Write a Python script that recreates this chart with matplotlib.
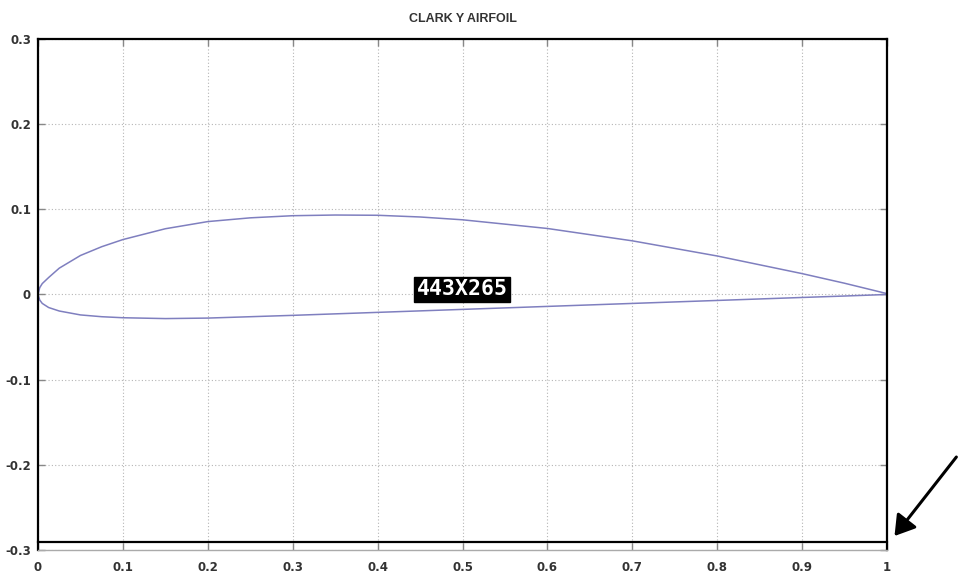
import matplotlib
matplotlib.use("Agg")
import matplotlib.pyplot as plt

# Clark Y airfoil coordinates (chord line from LE to TE)
x_upper = [0.0, 0.002, 0.005, 0.0125, 0.025, 0.05, 0.075, 0.1, 0.15, 0.2, 0.25, 0.3, 0.35, 0.4, 0.45, 0.5, 0.6, 0.7, 0.8, 0.9, 0.95, 1.0]
y_upper = [0.0, 0.0080, 0.0128, 0.0199, 0.0309, 0.0458, 0.0561, 0.0645, 0.0772, 0.0856, 0.0900, 0.0925, 0.0933, 0.0930, 0.0910, 0.0877, 0.0775, 0.0630, 0.0452, 0.0245, 0.0132, 0.0010]
x_lower = [0.0, 0.002, 0.005, 0.0125, 0.025, 0.05, 0.075, 0.1, 0.15, 0.2, 0.3, 0.4, 0.5, 0.6, 0.7, 0.8, 0.9, 0.95, 1.0]
y_lower = [0.0, -0.0065, -0.0105, -0.0153, -0.0194, -0.0240, -0.0261, -0.0273, -0.0283, -0.0277, -0.0245, -0.0210, -0.0175, -0.0140, -0.0105, -0.0070, -0.0035, -0.0018, 0.0]

x_ticks = [0, 0.1, 0.2, 0.3, 0.4, 0.5, 0.6, 0.7, 0.8, 0.9, 1]
x_labels = ["0", "0.1", "0.2", "0.3", "0.4", "0.5", "0.6", "0.7", "0.8", "0.9", "1"]
y_ticks = [-0.3, -0.2, -0.1, 0, 0.1, 0.2, 0.3]
y_labels = ["-0.3", "-0.2", "-0.1", "0", "0.1", "0.2", "0.3"]

title = "CLARK Y AIRFOIL"
label_text = "443X265"

fig = plt.figure(figsize=(9.6, 5.75), dpi=100)
ax = fig.add_axes([0.0396, 0.0435, 0.8844, 0.8887])

line_color = "#7f7fbf"
ax.plot(x_upper, y_upper, color=line_color, lw=1.1)
ax.plot(x_lower, y_lower, color=line_color, lw=1.1)

ax.set_xlim(0, 1)
ax.set_ylim(-0.3, 0.3)
ax.set_xticks(x_ticks)
ax.set_xticklabels(x_labels)
ax.set_yticks(y_ticks)
ax.set_yticklabels(y_labels)
ax.grid(True, linestyle=(0, (1, 2)), color="#b5b5b5", lw=0.8)
ax.tick_params(direction="in", length=5, width=1, color="#888888",
               top=True, right=True, labelsize=8.5, labelcolor="#333333", pad=5)
ax.tick_params(axis="x", pad=8)
for lbl in ax.get_xticklabels() + ax.get_yticklabels():
    lbl.set_fontweight("bold")
    lbl.set_fontfamily("DejaVu Sans")

for side in ["top", "left", "right"]:
    ax.spines[side].set_color("black")
    ax.spines[side].set_linewidth(1.6)
ax.spines["bottom"].set_color("#aaaaaa")
ax.spines["bottom"].set_linewidth(1.0)
# offset black frame line just above bottom
ax.plot([0, 1], [0.0157, 0.0157], transform=ax.transAxes, color="black",
        lw=1.6, clip_on=False)

ax.set_title(title, fontsize=9, fontweight="bold", color="#333333", pad=12,
             family="Liberation Sans")

ax.text(0.4995, 0.006, label_text, ha="center", va="center", color="white",
        fontsize=15.5, fontweight="bold", family="DejaVu Sans Mono",
        bbox=dict(boxstyle="square,pad=0.12", fc="black", ec="black"))

fig.add_artist(matplotlib.patches.FancyArrowPatch(
    (0.998, 0.209), (0.930, 0.064), transform=fig.transFigure,
    arrowstyle="-|>,head_length=8,head_width=5", color="black", lw=2.2,
    mutation_scale=1.5))

fig.savefig("out.png", dpi=100, facecolor="white")
